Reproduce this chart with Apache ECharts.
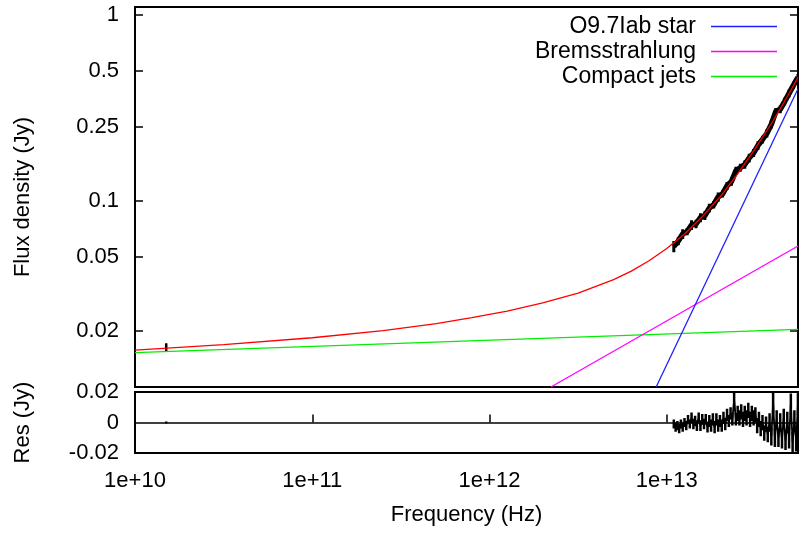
<!DOCTYPE html>
<html><head><meta charset="utf-8">
<script src="https://cdn.jsdelivr.net/npm/echarts@6/dist/echarts.min.js"></script>
<style>html,body{margin:0;padding:0;background:#fff}#c{width:799px;height:535px}</style>
</head><body><div id="c"></div>
<script>
const FONT = "'Liberation Sans', Arial, sans-serif";

// tick values
const xTicks = [1e10, 1e11, 1e12, 1e13];
const yTicks = [0.02, 0.05, 0.1, 0.25, 0.5, 1];

// model components (power laws, straight in log-log)
const starFreq = [8.71e12, 5.5e13];
const starFlux = [0.01, 0.4016];
const bremsFreq = [2.22e12, 5.5e13];
const bremsFlux = [0.01, 0.0573];
const jetsFreq = [1e10, 5.5e13];
const jetsFlux = [0.0153, 0.0204];

// total model (red)
const fitFreq = [1e10, 3.162e10, 1e11, 2.512e11, 5.012e11, 7.943e11, 1.259e12, 1.995e12, 3.162e12, 5.012e12, 6.310e12, 7.943e12, 1e13, 1.259e13, 1.585e13, 1.995e13, 2.512e13, 3.162e13, 3.981e13, 4.467e13, 5.012e13, 5.5e13];
const fitFlux = [0.0158, 0.0169, 0.0184, 0.0201, 0.0219, 0.0236, 0.0256, 0.0283, 0.0320, 0.0378, 0.0420, 0.0477, 0.0555, 0.0665, 0.0824, 0.105, 0.140, 0.192, 0.270, 0.325, 0.394, 0.462];

// mid-IR spectrum (black)
const specFreq = [1.096e13, 1.161e13, 1.230e13, 1.303e13, 1.380e13, 1.462e13, 1.549e13, 1.641e13, 1.738e13, 1.841e13, 1.950e13, 2.065e13, 2.188e13, 2.317e13, 2.455e13, 2.600e13, 2.754e13, 2.917e13, 3.090e13, 3.273e13, 3.467e13, 3.673e13, 3.890e13, 4.121e13, 4.365e13, 4.624e13, 4.898e13, 5.188e13, 5.495e13];
const specFlux = [0.0570, 0.0609, 0.0665, 0.0685, 0.0743, 0.0753, 0.0813, 0.0836, 0.0916, 0.0956, 0.1052, 0.1093, 0.1207, 0.1273, 0.1453, 0.1510, 0.1570, 0.1703, 0.1812, 0.1993, 0.2141, 0.2314, 0.2586, 0.3026, 0.3113, 0.3425, 0.3790, 0.4199, 0.4613];
const specErr = [0.004, 0.003, 0.004, 0.003, 0.0045, 0.004, 0.0045, 0.0045, 0.005, 0.0045, 0.006, 0.005, 0.006, 0.0065, 0.0075, 0.0075, 0.008, 0.009, 0.009, 0.0105, 0.0105, 0.012, 0.0135, 0.0135, 0.015, 0.0165, 0.018, 0.0195, 0.021];

// radio point
const radioFreq = [1.5e10];
const radioFlux = [0.0164];
const radioErr = [0.0008];

// residuals
const resFreq = [1.096e13,1.122e13,1.148e13,1.175e13,1.202e13,1.230e13,1.259e13,1.288e13,1.318e13,1.349e13,1.380e13,1.413e13,1.445e13,1.479e13,1.514e13,1.549e13,1.585e13,1.622e13,1.660e13,1.698e13,1.738e13,1.778e13,1.820e13,1.862e13,1.905e13,1.950e13,1.995e13,2.042e13,2.089e13,2.138e13,2.188e13,2.239e13,2.291e13,2.344e13,2.399e13,2.455e13,2.512e13,2.570e13,2.630e13,2.692e13,2.754e13,2.818e13,2.884e13,2.951e13,3.020e13,3.090e13,3.162e13,3.236e13,3.311e13,3.388e13,3.467e13,3.548e13,3.631e13,3.715e13,3.802e13,3.890e13,3.981e13,4.074e13,4.169e13,4.266e13,4.365e13,4.467e13,4.571e13,4.677e13,4.786e13,4.898e13,5.012e13,5.129e13,5.248e13,5.370e13,5.495e13];
const resVal = [-0.001,-0.003,-0.002,-0.004,-0.001,-0.003,0.000,-0.002,0.002,-0.001,0.003,-0.001,0.001,-0.002,0.003,-0.002,0.002,-0.001,0.002,-0.003,0.001,-0.002,0.002,-0.003,0.002,-0.002,0.001,-0.002,0.003,-0.001,0.005,0.001,0.006,0.002,0.0145,0.002,0.006,0.003,0.007,0.002,0.006,0.003,0.008,0.002,0.006,0.003,0.005,-0.002,0.002,-0.004,0.000,-0.007,-0.001,-0.008,0.000,-0.009,0.013,-0.010,0.002,-0.010,0.000,-0.011,0.003,-0.012,0.000,-0.010,0.012,-0.013,0.001,-0.012,0.012];
const resErr = [0.003,0.003,0.003,0.003,0.003,0.003,0.003,0.003,0.003,0.003,0.0035,0.0035,0.0035,0.0035,0.0035,0.0035,0.0035,0.0035,0.0035,0.0035,0.004,0.004,0.004,0.004,0.004,0.004,0.004,0.004,0.004,0.004,0.004,0.004,0.004,0.004,0.006,0.004,0.005,0.005,0.005,0.005,0.005,0.005,0.005,0.005,0.005,0.005,0.005,0.005,0.005,0.005,0.005,0.005,0.005,0.005,0.006,0.006,0.007,0.006,0.006,0.006,0.006,0.006,0.006,0.006,0.007,0.007,0.007,0.007,0.007,0.007,0.007];
const radioRes = [0];
const radioResErr = [0.0007];

const pairs = (xs, ys) => xs.map((x, i) => [x, ys[i]]);
const errSegs = (xs, ys, es) => { const out = []; xs.forEach((x, i) => { out.push([x, ys[i] - es[i]], [x, ys[i] + es[i]], null); }); return out; };

const txt = { fontFamily: FONT, fontSize: 22, color: '#000' };
const chart = echarts.init(document.getElementById('c'), null, { renderer: 'canvas' });

chart.setOption({
  animation: false,
  backgroundColor: '#fff',
  textStyle: { fontFamily: FONT },
  grid: [
    { left: 135, right: 1, top: 7, height: 380, show: true, borderColor: '#000', borderWidth: 2, containLabel: false },
    { left: 135, right: 1, top: 392, height: 61, show: true, borderColor: '#000', borderWidth: 2, containLabel: false }
  ],
  legend: {
    data: ['O9.7Iab star', 'Bremsstrahlung', 'Compact jets'],
    orient: 'vertical', right: 17, top: 10, align: 'right', icon: 'rect',
    itemWidth: 66, itemHeight: 1.4, itemGap: 2,
    textStyle: { fontFamily: FONT, fontSize: 23, color: '#000', lineHeight: 22, padding: [0, 10, 0, 0] },
    selectedMode: false
  },
  xAxis: [
    { type: 'log', gridIndex: 0, min: 1e10, max: 5.5e13, logBase: 10,
      axisLine: { show: false }, axisTick: { show: false }, axisLabel: { show: false }, splitLine: { show: false }, minorTick: { show: false } },
    { type: 'log', gridIndex: 1, min: 1e10, max: 5.5e13, logBase: 10,
      name: 'Frequency (Hz)', nameLocation: 'middle', nameGap: 51, nameTextStyle: txt,
      axisLine: { show: false },
      axisTick: { show: true, inside: true, length: 8, customValues: xTicks, lineStyle: { color: '#000', width: 1.5 } },
      axisLabel: { show: true, customValues: xTicks, margin: 17, ...txt, formatter: v => '1e+' + Math.round(Math.log10(v)) },
      splitLine: { show: false } }
  ],
  yAxis: [
    { type: 'log', gridIndex: 0, min: 0.01, max: 1.104, logBase: 10,
      name: 'Flux density (Jy)', nameLocation: 'middle', nameGap: 101, nameRotate: 90, nameTextStyle: txt,
      axisLine: { show: false },
      axisTick: { show: true, inside: true, length: 8, customValues: yTicks, lineStyle: { color: '#000', width: 1.5 } },
      axisLabel: { show: true, customValues: yTicks, margin: 16, ...txt, formatter: v => String(+(+v).toPrecision(3)) },
      splitLine: { show: false } },
    { type: 'log', gridIndex: 0, position: 'right', min: 0.01, max: 1.104, logBase: 10,
      axisLine: { show: false },
      axisTick: { show: true, inside: true, length: 8, customValues: yTicks, lineStyle: { color: '#000', width: 1.5 } },
      axisLabel: { show: false }, splitLine: { show: false } },
    { type: 'value', gridIndex: 1, min: -0.02, max: 0.02, interval: 0.02,
      name: 'Res (Jy)', nameLocation: 'middle', nameGap: 101, nameRotate: 90, nameTextStyle: txt,
      axisLine: { show: false }, axisTick: { show: false },
      axisLabel: { show: true, margin: 16, ...txt, showMinLabel: true, showMaxLabel: true, formatter: v => String(+(+v).toPrecision(3)) },
      splitLine: { show: false } }
  ],
  series: [
    { name: 'Compact jets', type: 'line', xAxisIndex: 0, yAxisIndex: 0, data: pairs(jetsFreq, jetsFlux), symbol: 'none', lineStyle: { color: '#00ee00', width: 1.3 }, itemStyle: { color: '#00ee00' }, z: 2 },
    { name: 'Bremsstrahlung', type: 'line', xAxisIndex: 0, yAxisIndex: 0, data: pairs(bremsFreq, bremsFlux), symbol: 'none', lineStyle: { color: '#ff00ff', width: 1.3 }, itemStyle: { color: '#ff00ff' }, z: 2 },
    { name: 'O9.7Iab star', type: 'line', xAxisIndex: 0, yAxisIndex: 0, data: pairs(starFreq, starFlux), symbol: 'none', lineStyle: { color: '#2020ff', width: 1.3 }, itemStyle: { color: '#2020ff' }, z: 2 },
    { name: 'spectrum', type: 'line', xAxisIndex: 0, yAxisIndex: 0, data: pairs(specFreq, specFlux), symbol: 'none', lineStyle: { color: '#000', width: 5.5, join: 'round' }, z: 3 },
    { name: 'spectrumErr', type: 'line', xAxisIndex: 0, yAxisIndex: 0, data: errSegs(specFreq, specFlux, specErr), symbol: 'none', connectNulls: false, lineStyle: { color: '#000', width: 3 }, z: 3 },
    { name: 'radio', type: 'line', xAxisIndex: 0, yAxisIndex: 0, data: errSegs(radioFreq, radioFlux, radioErr), symbol: 'none', connectNulls: false, lineStyle: { color: '#000', width: 2.5 }, z: 3 },
    { name: 'total', type: 'line', xAxisIndex: 0, yAxisIndex: 0, data: pairs(fitFreq, fitFlux), symbol: 'none', lineStyle: { color: '#ff0000', width: 1.3 }, z: 4 },
    { name: 'residuals', type: 'line', xAxisIndex: 1, yAxisIndex: 2, data: pairs(resFreq, resVal), symbol: 'none', lineStyle: { color: '#000', width: 1.8 }, z: 3,
      markLine: { silent: true, symbol: 'none', label: { show: false }, lineStyle: { color: '#000', width: 1.5, type: 'solid' }, data: [{ yAxis: 0 }] } },
    { name: 'residualsErr', type: 'line', xAxisIndex: 1, yAxisIndex: 2, data: errSegs(resFreq, resVal, resErr), symbol: 'none', connectNulls: false, lineStyle: { color: '#000', width: 2.5 }, z: 3 },
    { name: 'radiores', type: 'line', xAxisIndex: 1, yAxisIndex: 2, data: errSegs(radioFreq, radioRes, radioResErr), symbol: 'none', lineStyle: { color: '#000', width: 2.5 }, z: 3 }
  ]
});
</script></body></html>
